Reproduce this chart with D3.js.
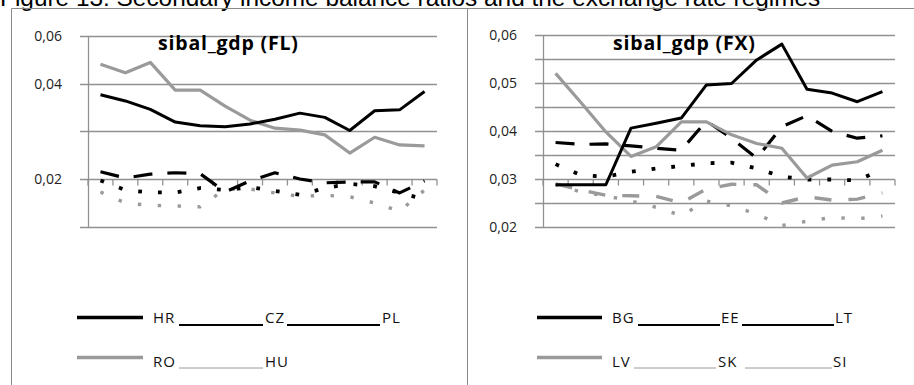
<!DOCTYPE html>
<html><head><meta charset="utf-8">
<script src="https://cdn.jsdelivr.net/npm/d3@7"></script>
<style>body{margin:0;background:#fff}svg{display:block}</style>
</head><body>
<svg id="c" width="914" height="385"></svg>
<script>
// ---------- DATA ----------
const figureTitle = "Figure 13: Secondary income balance ratios and the exchange rate regimes";
const periods = ["2000","2001","2002","2003","2004","2005","2006","2007","2008","2009","2010","2011","2012","2013"];

// Left panel: floating regimes (FL)
const flTitle = "sibal_gdp (FL)";
const HR = [0.0377,0.0364,0.0346,0.0319,0.0311,0.0309,0.0315,0.0325,0.0338,0.0329,0.0301,0.0343,0.0345,0.0384];
const CZ = [0.0215,0.0202,0.0210,0.0213,0.0211,0.0173,0.0196,0.0213,0.0200,0.0192,0.0194,0.0194,0.0171,0.0196];
const PL = [0.0197,0.0177,0.0172,0.0172,0.0181,0.0177,0.0183,0.0175,0.0167,0.0181,0.0190,0.0185,0.0171,0.0158];
const RO = [0.0482,0.0447,0.0490,0.0387,0.0387,0.0353,0.0323,0.0306,0.0302,0.0292,0.0254,0.0287,0.0271,0.0269];
const HU = [0.0173,0.0150,0.0145,0.0144,0.0142,0.0179,0.0179,0.0171,0.0164,0.0166,0.0163,0.0150,0.0133,0.0177];
const flTickValues = [0.01,0.02,0.03,0.04,0.06];
const flTickLabels = ["","0,02","","0,04","0,06"];

// Right panel: fixed regimes (FX)
const fxTitle = "sibal_gdp (FX)";
const BG = [0.0288,0.0288,0.0288,0.0406,0.0416,0.0427,0.0496,0.0499,0.0548,0.0581,0.0487,0.0479,0.0461,0.0482];
const EE = [0.0376,0.0372,0.0373,0.0369,0.0364,0.0360,0.0421,0.0385,0.0343,0.0409,0.0432,0.0399,0.0385,0.0390];
const LT = [0.0331,0.0308,0.0305,0.0315,0.0322,0.0327,0.0333,0.0334,0.0322,0.0305,0.0299,0.0299,0.0297,0.0320];
const LV = [0.0520,0.0460,0.0398,0.0347,0.0367,0.0419,0.0419,0.0392,0.0374,0.0364,0.0302,0.0329,0.0336,0.0360];
const SK = [0.0290,0.0277,0.0266,0.0265,0.0264,0.0250,0.0279,0.0289,0.0288,0.0250,0.0263,0.0256,0.0258,0.0271];
const SI = [0.0288,0.0273,0.0265,0.0254,0.0241,0.0224,0.0254,0.0244,0.0227,0.0203,0.0212,0.0220,0.0217,0.0223];
const fxTickValues = [0.02,0.025,0.03,0.035,0.04,0.045,0.05,0.055,0.06];
const fxTickLabels = ["0,02","","0,03","","0,04","","0,05","","0,06"];

// ---------- STYLES ----------
const BLACK = "#000", GREY = "#9a9a9a", GRID = "#919191";
const styles = {
  solidBlack: {stroke: BLACK, width: 3, dash: null},
  dashBlack:  {stroke: BLACK, width: 3.2, dash: "19 15"},
  dotBlack:   {stroke: BLACK, width: 3.8, dash: "3.8 16"},
  solidGrey:  {stroke: GREY, width: 3.2, dash: null},
  dashGrey:   {stroke: GREY, width: 3.4, dash: "17 17"},
  dotGrey:    {stroke: GREY, width: 3.4, dash: "3.4 16.5"}
};

const svg = d3.select("#c");

// figure caption (top clipped as in source)
svg.append("text").attr("x", 0).attr("y", 6)
  .attr("font-family", "'Liberation Sans', Arial, sans-serif").attr("font-size", 24.4)
  .attr("fill", "#000").text(figureTitle);

// panel frames
svg.append("line").attr("x1", 11.5).attr("x2", 914).attr("y1", 8.5).attr("y2", 8.5).attr("stroke", "#8a8a8a");
svg.append("line").attr("x1", 11.5).attr("x2", 11.5).attr("y1", 8.5).attr("y2", 385).attr("stroke", "#8a8a8a");
svg.append("line").attr("x1", 467.5).attr("x2", 467.5).attr("y1", 8.5).attr("y2", 385).attr("stroke", "#8a8a8a");

function drawPanel(p) {
  const g = svg.append("g");
  const x = d3.scaleBand().domain(periods).range([p.left, p.right]);
  const y = d3.scaleLinear().domain(p.yDomain).range(p.yRange);

  // gridlines + y ticks + labels
  p.tickValues.forEach((v, i) => {
    g.append("line").attr("x1", p.left - 8).attr("x2", p.right)
      .attr("y1", Math.round(y(v)) + 0.5).attr("y2", Math.round(y(v)) + 0.5)
      .attr("stroke", GRID).attr("stroke-width", 1.3);
    if (p.tickLabels[i]) {
      g.append("text").attr("x", p.left - 26).attr("y", y(v)).attr("dy", "0.35em")
        .attr("text-anchor", "end").attr("font-family", "'Open Sans', sans-serif")
        .attr("font-size", 14).attr("fill", "#222").text(p.tickLabels[i]);
    }
  });
  // y axis line
  g.append("line").attr("x1", p.left + 0.5).attr("x2", p.left + 0.5)
    .attr("y1", y(p.yDomain[p.yDomain.length - 1])).attr("y2", p.yRange[0])
    .attr("stroke", GRID).attr("stroke-width", 1.3);
  // x axis (crossing at p.xCross) with category ticks
  const yc = Math.round(y(p.xCross)) + 0.5;
  const bounds = periods.map(d => x(d)).concat([p.right]);
  bounds.forEach(b => {
    g.append("line").attr("x1", b).attr("x2", b).attr("y1", yc).attr("y2", yc + 6)
      .attr("stroke", GRID).attr("stroke-width", 1.3);
  });

  const line = d3.line().x((d, i) => x(periods[i]) + x.bandwidth() / 2).y(d => y(d));
  p.series.forEach(s => {
    const st = styles[s.style];
    g.append("path").attr("d", line(s.values)).attr("fill", "none")
      .attr("stroke", st.stroke).attr("stroke-width", st.width)
      .attr("stroke-dasharray", st.dash).attr("stroke-linejoin", "round");
  });

  // title
  g.append("text").attr("x", p.titleX).attr("y", 50)
    .attr("font-family", "'Open Sans', sans-serif").attr("font-weight", "bold")
    .attr("font-size", 19.5).attr("letter-spacing", 0.8).attr("fill", "#000").text(p.title);

  // legend
  p.legend.forEach(e => {
    const st = styles[e.style];
    g.append("line").attr("x1", e.x1).attr("x2", e.x2).attr("y1", e.ly).attr("y2", e.ly)
      .attr("stroke", st.stroke).attr("stroke-width", e.w);
    g.append("text").attr("x", e.tx).attr("y", e.ty)
      .attr("font-family", "'Open Sans', sans-serif").attr("font-size", 15)
      .attr("letter-spacing", 1).attr("fill", "#111").text(e.name);
  });
}

drawPanel({
  left: 88, right: 437, yDomain: flTickValues, yRange: [227, 179, 131, 84, 36],
  tickValues: flTickValues, tickLabels: flTickLabels, xCross: 0.02,
  title: flTitle, titleX: 158,
  series: [
    {values: PL, style: "dotBlack"}, {values: HU, style: "dotGrey"},
    {values: CZ, style: "dashBlack"}, {values: RO, style: "solidGrey"}, {values: HR, style: "solidBlack"}
  ],
  legend: [
    {name: "HR", style: "solidBlack", x1: 77, x2: 143, ly: 317.5, w: 3.5, tx: 153, ty: 323},
    {name: "CZ", style: "solidBlack", x1: 179, x2: 263, ly: 325, w: 2, tx: 265, ty: 323},
    {name: "PL", style: "solidBlack", x1: 287, x2: 380, ly: 325, w: 2, tx: 382, ty: 323},
    {name: "RO", style: "solidGrey", x1: 77, x2: 143, ly: 357.5, w: 3.5, tx: 153, ty: 367},
    {name: "HU", style: "solidGrey", x1: 179, x2: 263, ly: 368, w: 1, tx: 265, ty: 367}
  ]
});

drawPanel({
  left: 543, right: 895, yDomain: [0.02, 0.06], yRange: [227, 35],
  tickValues: fxTickValues, tickLabels: fxTickLabels, xCross: 0.03,
  title: fxTitle, titleX: 613,
  series: [
    {values: SI, style: "dotGrey"}, {values: LT, style: "dotBlack"},
    {values: SK, style: "dashGrey"}, {values: EE, style: "dashBlack"},
    {values: LV, style: "solidGrey"}, {values: BG, style: "solidBlack"}
  ],
  legend: [
    {name: "BG", style: "solidBlack", x1: 537, x2: 602, ly: 317.5, w: 3.5, tx: 612, ty: 323},
    {name: "EE", style: "solidBlack", x1: 638, x2: 720, ly: 325, w: 2, tx: 721, ty: 323},
    {name: "LT", style: "solidBlack", x1: 742, x2: 834, ly: 325, w: 2, tx: 835, ty: 323},
    {name: "LV", style: "solidGrey", x1: 537, x2: 602, ly: 357.5, w: 3.5, tx: 612, ty: 367},
    {name: "SK", style: "solidGrey", x1: 634, x2: 716, ly: 368, w: 1, tx: 718, ty: 367},
    {name: "SI", style: "solidGrey", x1: 745, x2: 832, ly: 368, w: 1, tx: 833, ty: 367}
  ]
});
</script>
</body></html>
